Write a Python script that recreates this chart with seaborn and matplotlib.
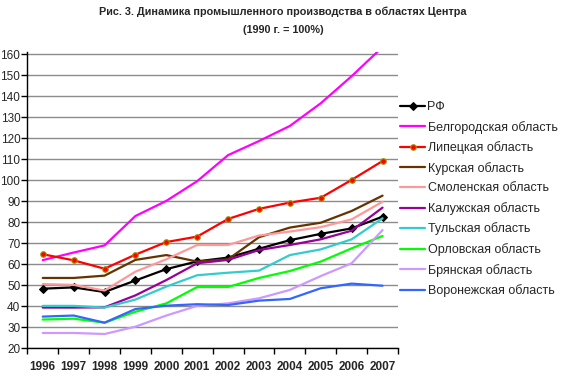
import matplotlib
matplotlib.use("Agg")
import matplotlib.pyplot as plt
import seaborn as sns
import numpy as np
import pandas as pd

years = ["1996", "1997", "1998", "1999", "2000", "2001", "2002", "2003", "2004", "2005", "2006", "2007"]

rf        = [48.4, 49.0, 46.8, 52.3, 57.7, 61.4, 63.2, 67.4, 71.5, 74.5, 77.1, 82.7]
belgorod  = [62.0, 65.6, 69.0, 83.0, 90.2, 99.6, 112.0, 118.7, 125.9, 136.7, 149.6, 163.5]
lipetsk   = [64.8, 61.9, 57.9, 64.6, 70.6, 73.2, 81.6, 86.4, 89.4, 91.7, 100.2, 109.2]
kursk     = [53.5, 53.5, 54.6, 62.1, 64.4, 61.3, 62.4, 72.9, 77.5, 79.8, 85.4, 92.7]
smolensk  = [50.6, 50.2, 47.5, 56.5, 62.4, 69.2, 69.2, 73.7, 75.6, 77.7, 81.4, 89.8]
kaluga    = [39.4, 39.4, 39.5, 45.2, 52.5, 60.5, 62.1, 66.8, 69.2, 71.9, 76.0, 87.0]
tula      = [40.2, 40.2, 39.4, 43.2, 49.4, 54.8, 56.0, 57.0, 64.4, 67.1, 71.9, 81.9]
orel      = [33.7, 34.1, 32.2, 37.4, 41.4, 49.2, 49.2, 53.5, 56.8, 61.3, 67.6, 73.5]
bryansk   = [27.3, 27.3, 26.8, 30.3, 35.6, 40.2, 41.4, 43.8, 47.8, 54.4, 60.5, 76.3]
voronezh  = [35.1, 35.6, 32.2, 38.7, 40.3, 41.0, 40.6, 42.7, 43.5, 48.6, 50.8, 49.8]

names = ["РФ", "Белгородская область", "Липецкая область", "Курская область",
         "Смоленская область", "Калужская область", "Тульская область",
         "Орловская область", "Брянская область", "Воронежская область"]
series = [rf, belgorod, lipetsk, kursk, smolensk, kaluga, tula, orel, bryansk, voronezh]
colors = ["#000000", "#FF00FF", "#FF0000", "#663300", "#FF9999",
          "#990099", "#33CCCC", "#00FF00", "#CC99FF", "#3366FF"]

sns.set_theme(style="white")
plt.rcParams['font.family'] = ['Liberation Sans', 'DejaVu Sans']

fig = plt.figure(figsize=(5.66, 3.77), dpi=100)
ax = fig.add_axes([27.3 / 566, 28.7 / 377, (398 - 27.3) / 566, (322.7 + 2.7 - 28.7) / 377])

pos = np.arange(len(years))
for name, vals, col in zip(names, series, colors):
    df = pd.DataFrame({"x": pos, "y": vals})
    kw = {}
    if name == "РФ":
        kw = dict(marker="D", markersize=4, markerfacecolor="#000000", markeredgecolor="#000000")
    elif name == "Липецкая область":
        kw = dict(marker="o", markersize=4, markerfacecolor="#FF0000", markeredgecolor="#999900",
                  markeredgewidth=0.8)
    sns.lineplot(data=df, x="x", y="y", ax=ax, color=col, linewidth=1.6, label=name, **kw)

ax.set_xlim(-0.5, len(years) - 0.5)
ax.set_ylim(20, 161.3)
ax.set_yticks(np.arange(20, 161, 10))
ax.set_yticklabels([str(v) for v in range(20, 161, 10)], fontsize=8.5)
ax.yaxis.grid(True, color="#8c8c8c", linewidth=1.0)
ax.xaxis.grid(False)
ax.set_axisbelow(True)

ax.set_xticks(np.arange(-0.5, len(years), 1.0))
ax.set_xticklabels([])
ax.set_xticks(pos, minor=True)
ax.set_xticklabels(years, minor=True, fontsize=8.5, fontweight="bold")
ax.tick_params(axis="x", which="major", direction="out", length=4, width=1, color="black", bottom=True)
ax.tick_params(axis="x", which="minor", length=0, pad=9)
ax.tick_params(axis="y", direction="out", length=4, width=1, color="black", left=True, pad=1)
ax.set_xlabel("")
ax.set_ylabel("")

for s in ["top", "right"]:
    ax.spines[s].set_visible(False)
for s in ["left", "bottom"]:
    ax.spines[s].set_color("black")
    ax.spines[s].set_linewidth(1.0)

handles, labels = ax.get_legend_handles_labels()
ax.get_legend().remove()
fig.legend(handles, labels, loc="upper left", bbox_to_anchor=(400 / 566, 1 - 101 / 377),
           frameon=False, fontsize=9, handlelength=2.0, handletextpad=0.2,
           labelspacing=0.61, borderaxespad=0, borderpad=0)

fig.text(0.5, 1 - 12 / 377, "Рис. 3. Динамика промышленного производства в областях Центра",
         ha="center", va="center", fontsize=7.8, fontweight="bold")
fig.text(0.5, 1 - 30 / 377, "(1990 г. = 100%)", ha="center", va="center", fontsize=7.8, fontweight="bold")

fig.savefig("out.png", dpi=100)
